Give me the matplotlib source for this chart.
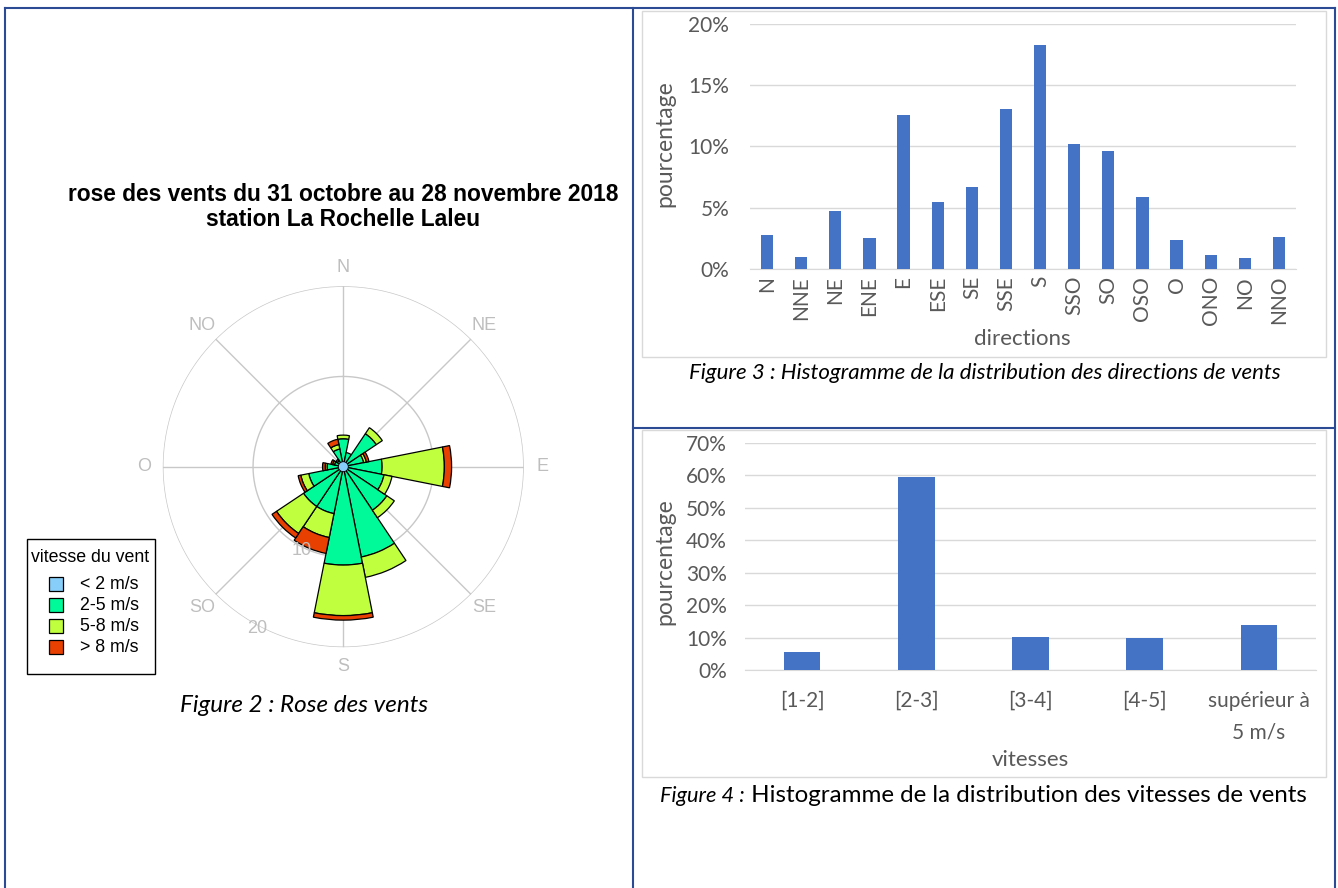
import numpy as np
import matplotlib.pyplot as plt
from matplotlib.patches import Rectangle
from matplotlib.lines import Line2D

W, H = 1338, 888

# ---- rose des vents (longueur de chaque classe, en %) ----
directions = ['N', 'NNE', 'NE', 'ENE', 'E', 'ESE', 'SE', 'SSE',
              'S', 'SSO', 'SO', 'OSO', 'O', 'ONO', 'NO', 'NNO']
calme = 0.55  # < 2 m/s, disque central
v_2_5 = [3.1, 1.6, 4.4, 2.3, 4.3, 4.6, 5.8, 10.2, 10.9, 5.3, 5.3, 3.9, 1.8, 1.0, 0.8, 2.0]
v_5_8 = [0.4, 0.0, 0.8, 0.3, 6.9, 0.9, 1.0, 2.3, 5.6, 2.7, 3.6, 0.9, 0.2, 0.2, 0.0, 0.5]
v_8p = [0.0, 0.0, 0.0, 0.3, 0.8, 0.0, 0.0, 0.0, 0.5, 1.8, 0.6, 0.3, 0.3, 0.2, 0.2, 0.6]
classes = ['< 2 m/s', '2-5 m/s', '5-8 m/s', '> 8 m/s']
couleurs = ['#87CEFA', '#00FA9A', '#C0FF3E', '#E84000']

# ---- histogrammes ----
pct_directions = [2.8, 1.0, 4.75, 2.5, 12.6, 5.5, 6.7, 13.05, 18.25, 10.2, 9.6, 5.9, 2.35, 1.15, 0.9, 2.65]
vitesses = ['[1-2]', '[2-3]', '[3-4]', '[4-5]', 'supérieur à\n5 m/s']
pct_vitesses = [5.6, 59.5, 10.3, 10.0, 13.9]

plt.rcParams['font.family'] = ['Lato', 'DejaVu Sans']
arial = ['Liberation Sans', 'DejaVu Sans']
gris = '#595959'
bleu = '#4472C4'

fig = plt.figure(figsize=(W / 100, H / 100), dpi=100)


def fx(x):
    return x / W


def fy(y):
    return 1 - y / H


# cadres bleus du tableau
cadre = '#2B4C94'
for xs, ys in [([5, 1335], [8, 8]), ([5, 5], [8, 888]), ([1335, 1335], [8, 888]),
               ([633, 633], [8, 888]), ([633, 1335], [428, 428])]:
    fig.add_artist(Line2D([fx(x) for x in xs], [fy(y) for y in ys],
                          transform=fig.transFigure, color=cadre, lw=1.5))

# ---------------- rose des vents ----------------
cx, cy, rpx = 343.3, 466.7, 180.5
ax = fig.add_axes([fx(cx - rpx), fy(cy + rpx), 2 * rpx / W, 2 * rpx / H],
                  projection='polar')
ax.set_theta_zero_location('N')
ax.set_theta_direction(-1)
ax.set_ylim(0, 20)
ax.axis('off')

t = np.linspace(0, 2 * np.pi, 361)
for rr in [10, 20]:
    ax.plot(t, np.full_like(t, rr), color='#C8C8C8', lw=1, zorder=0)
for a in range(0, 360, 45):
    ax.plot([np.deg2rad(a)] * 2, [0, 20], color='#C8C8C8', lw=1, zorder=0)

theta = np.deg2rad(np.arange(16) * 22.5)
largeur = 2 * np.pi / 16
bas = np.zeros(16)
for vals, c in zip([v_2_5, v_5_8, v_8p], couleurs[1:]):
    vals = np.array(vals)
    ok = vals > 0
    ax.bar(theta[ok], vals[ok], width=largeur, bottom=bas[ok], color=c,
           edgecolor='black', linewidth=0.9, zorder=2)
    bas = bas + vals
ax.fill(t, np.full_like(t, calme), color=couleurs[0], ec='black', lw=0.6, zorder=4)

for lab, a in zip(['N', 'NE', 'E', 'SE', 'S', 'SO', 'O', 'NO'], range(0, 360, 45)):
    ax.text(np.deg2rad(a), 22.1, lab, ha='center', va='center', color='#BEBEBE',
            fontsize=13, family=arial)
ax.text(np.deg2rad(206.5), 10.4, '10', ha='center', va='center', color='#BEBEBE',
        fontsize=13, family=arial)
ax.text(np.deg2rad(208), 20.3, '20', ha='center', va='center', color='#BEBEBE',
        fontsize=13, family=arial)

fig.text(fx(343), fy(207),
         'rose des vents du 31 octobre au 28 novembre 2018\nstation La Rochelle Laleu',
         ha='center', va='center', fontsize=16.4, fontweight='bold', family=arial,
         linespacing=1.15)

# légende (cadre dessiné à la main pour coller à la mise en page)
fig.add_artist(Rectangle((fx(27), fy(674)), 128 / W, 135 / H, transform=fig.transFigure,
                         fill=True, fc='white', ec='black', lw=1.0))
fig.text(fx(90), fy(557), 'vitesse du vent', ha='center', va='center', fontsize=12.8,
         family=arial)
for i, (lab, c) in enumerate(zip(classes, couleurs)):
    yy = 584 + 21 * i
    fig.add_artist(Rectangle((fx(49), fy(yy + 7)), 14 / W, 14 / H,
                             transform=fig.transFigure, fc=c, ec='black', lw=0.9))
    fig.text(fx(80), fy(yy), lab, ha='left', va='center', fontsize=12.8, family=arial)

fig.text(fx(304), fy(705), 'Figure 2 : Rose des vents', ha='center', va='center',
         style='italic', fontsize=17.5)

# ---------------- histogramme des directions ----------------
for y0, y1 in [(11, 357), (430, 777)]:
    fig.add_artist(Rectangle((fx(642), fy(y1)), (1326 - 642) / W, (y1 - y0) / H,
                             transform=fig.transFigure, fill=False, ec='#D9D9D9', lw=1))


def style_excel(a):
    for s in ['top', 'left', 'right']:
        a.spines[s].set_visible(False)
    a.spines['bottom'].set_color('#D9D9D9')
    a.yaxis.grid(True, color='#D9D9D9', lw=1, zorder=0)
    a.set_axisbelow(True)
    a.tick_params(length=0, colors=gris, labelsize=15)


ax1 = fig.add_axes([fx(750), fy(269), 546 / W, 245 / H])
ax1.bar(range(16), pct_directions, width=0.36, color=bleu, zorder=3)
ax1.set_xlim(-0.5, 15.5)
ax1.set_ylim(0, 20)
ax1.set_yticks([0, 5, 10, 15, 20], ['0%', '5%', '10%', '15%', '20%'])
ax1.set_xticks(range(16), directions, rotation=90)
style_excel(ax1)
ax1.tick_params(axis='y', pad=15)
ax1.tick_params(axis='x', pad=5, labelsize=15)
fig.text(fx(1022), fy(339), 'directions', ha='center', va='center', color=gris,
         fontsize=16)
fig.text(fx(665), fy(144), 'pourcentage', ha='center', va='center', color=gris,
         fontsize=16.5, rotation=90)
fig.text(fx(985), fy(373),
         'Figure 3 : Histogramme de la distribution des directions de vents',
         ha='center', va='center', style='italic', fontsize=16)

# ---------------- histogramme des vitesses ----------------
ax2 = fig.add_axes([fx(745), fy(670), 571 / W, 227 / H])
ax2.bar(range(5), pct_vitesses, width=0.32, color=bleu, zorder=3)
ax2.set_xlim(-0.5, 4.5)
ax2.set_ylim(0, 70)
ax2.set_yticks(range(0, 71, 10), [f'{v}%' for v in range(0, 71, 10)])
ax2.set_xticks(range(5), vitesses)
style_excel(ax2)
ax2.tick_params(axis='y', pad=13)
ax2.tick_params(axis='x', pad=15)
for tl in ax2.get_xticklabels():
    tl.set_linespacing(1.7)
fig.text(fx(1030), fy(760), 'vitesses', ha='center', va='center', color=gris,
         fontsize=16)
fig.text(fx(665), fy(562), 'pourcentage', ha='center', va='center', color=gris,
         fontsize=16.5, rotation=90)
t1 = fig.text(fx(660), fy(806), 'Figure 4 :', ha='left', va='bottom',
              style='italic', fontsize=15.7)
fig.add_artist(plt.Annotation(' Histogramme de la distribution des vitesses de vents',
                              xy=(1, 0), xycoords=t1, ha='left', va='bottom',
                              fontsize=17.4))

fig.savefig('out.png', dpi=100)
